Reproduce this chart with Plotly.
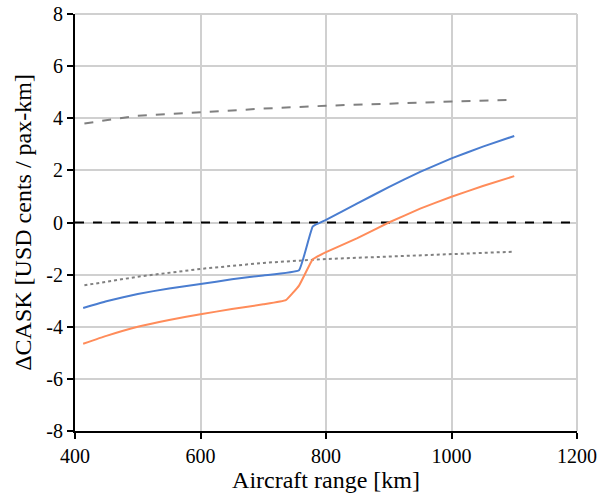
import plotly.graph_objects as go

# Data
x_top = [415, 500, 600, 700, 800, 900, 1000, 1100]
y_top = [3.80, 4.10, 4.23, 4.37, 4.48, 4.57, 4.64, 4.71]

x_blue = [413, 450, 500, 550, 600, 650, 700, 757, 779, 800, 850, 900, 950, 1000, 1050, 1100]
y_blue = [-3.28, -3.02, -2.74, -2.53, -2.36, -2.18, -2.03, -1.83, -0.15, 0.1, 0.73, 1.36, 1.94, 2.46, 2.91, 3.32]

x_orange = [413, 450, 500, 550, 600, 650, 700, 736, 757, 779, 800, 850, 900, 950, 1000, 1050, 1100]
y_orange = [-4.65, -4.35, -4.0, -3.74, -3.52, -3.32, -3.14, -2.98, -2.42, -1.41, -1.14, -0.6, 0.0, 0.53, 0.99, 1.40, 1.78]

x_dot = [415, 500, 600, 700, 800, 900, 1000, 1100]
y_dot = [-2.41, -2.08, -1.78, -1.55, -1.40, -1.30, -1.21, -1.12]

x_zero = [400, 1200]
y_zero = [0, 0]

x_ticks = [400, 600, 800, 1000, 1200]
y_ticks = list(range(-8, 9, 2))
y_ticktext = [str(v) for v in y_ticks]

fig = go.Figure()
fig.add_trace(go.Scatter(x=x_top, y=y_top, mode="lines",
                         line=dict(color="#808080", width=2, dash="dash")))
fig.add_trace(go.Scatter(x=x_dot, y=y_dot, mode="lines",
                         line=dict(color="#808080", width=2, dash="dot")))
fig.add_trace(go.Scatter(x=x_zero, y=y_zero, mode="lines",
                         line=dict(color="black", width=2, dash="dash")))
fig.add_trace(go.Scatter(x=x_orange, y=y_orange, mode="lines",
                         line=dict(color="#FF8C5A", width=2, shape="spline", smoothing=0.3)))
fig.add_trace(go.Scatter(x=x_blue, y=y_blue, mode="lines",
                         line=dict(color="#4A7DD0", width=2, shape="spline", smoothing=0.3)))

fig.update_layout(
    width=600, height=497,
    margin=dict(l=75, r=23, t=14, b=66, autoexpand=False),
    plot_bgcolor="white", paper_bgcolor="white",
    showlegend=False,
    font=dict(family="Times New Roman", size=20, color="black"),
)
fig.update_xaxes(range=[400, 1200], tickvals=x_ticks,
                 tickfont=dict(family="Liberation Serif", size=20),
                 showgrid=True, gridcolor="#D0D0D0", gridwidth=2,
                 showline=True, linecolor="black", linewidth=2,
                 ticks="outside", ticklen=6, tickcolor="black", tickwidth=2,
                 zeroline=False, automargin=False,
                 title=dict(text="Aircraft range [km]", standoff=4))
fig.update_yaxes(range=[-8, 8], tickvals=y_ticks, ticktext=y_ticktext,
                 tickfont=dict(family="Liberation Serif", size=20),
                 showgrid=True, gridcolor="#D0D0D0", gridwidth=2,
                 showline=True, linecolor="black", linewidth=2,
                 ticks="outside", ticklen=6, tickcolor="black", tickwidth=2,
                 zeroline=False, automargin=False,
                 title=dict(text="ΔCASK [USD cents / pax-km]", standoff=8))
fig.add_shape(type="line", xref="paper", yref="paper", x0=1, x1=1, y0=0, y1=1,
              line=dict(color="#D0D0D0", width=2))
fig.add_shape(type="line", xref="paper", yref="paper", x0=0, x1=1, y0=1, y1=1,
              line=dict(color="#D0D0D0", width=2))

fig.write_html("out.html")
